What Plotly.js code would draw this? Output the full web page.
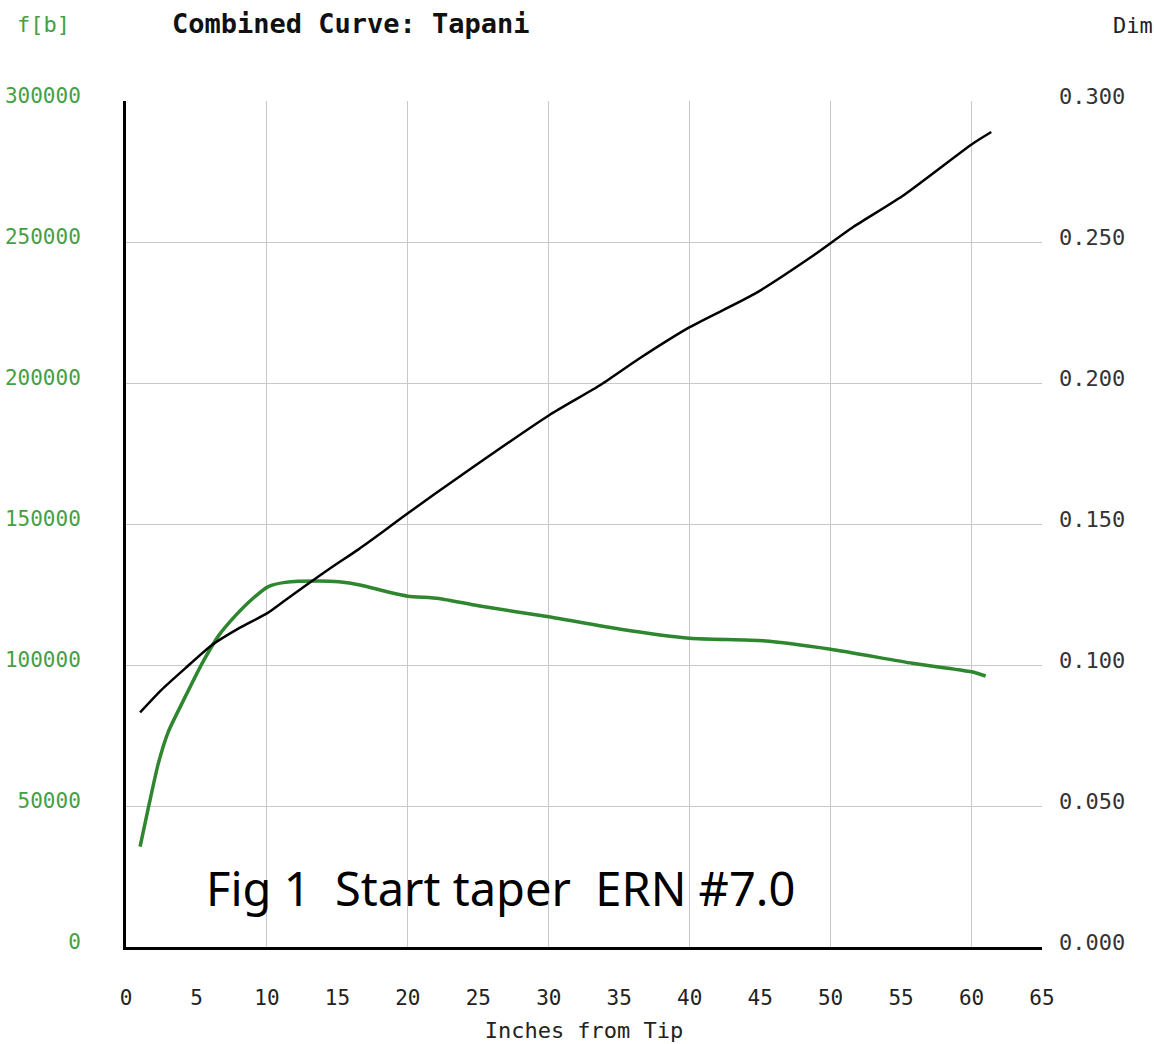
<!DOCTYPE html>
<html>
<head>
<meta charset="utf-8">
<script src="https://cdn.plot.ly/plotly-3.0.1.min.js"></script>
<style>
  html, body { margin: 0; padding: 0; background: #ffffff; }
  #chart { width: 1154px; height: 1044px; }
</style>
</head>
<body>
<div id="chart"></div>
<script>
// Force curve f[b] (left axis)
const forceX = [1.0, 1.6, 2.3, 3.0, 4.2, 5.4, 6.6, 7.8, 9.0, 10.1, 11.3, 13.7, 15.1, 16.6, 18.5, 20.0, 22.2, 25.0, 30.0, 35.1, 40.0, 45.2, 50.0, 55.8, 60.0, 61.0];
const forceY = [35600, 49700, 65200, 76300, 88700, 100600, 110600, 117700, 123600, 127800, 129300, 129800, 129500, 128400, 126000, 124400, 123600, 121000, 117100, 112700, 109500, 108600, 105600, 100600, 97600, 96100];

// Dimension curve Dim (right axis)
const dimX = [1.0, 2.5, 4.2, 6.1, 8.0, 10.0, 11.3, 12.8, 14.7, 16.5, 18.3, 20.0, 23.6, 30.0, 33.6, 36.4, 40.0, 44.6, 48.8, 51.6, 55.1, 60.0, 61.4];
const dimY = [0.0832, 0.0911, 0.0988, 0.1071, 0.1130, 0.1183, 0.1230, 0.1284, 0.1350, 0.1410, 0.1475, 0.1538, 0.1666, 0.1885, 0.1991, 0.2086, 0.2198, 0.2316, 0.2453, 0.2553, 0.2663, 0.2846, 0.2890];

const chartTitle = "Combined Curve: Tapani";
const leftLabel = "f[b]";
const rightLabel = "Dim";
const xTitle = "Inches from Tip";
const noteText = "Fig 1  Start taper  ERN #7.0";

const mono = "DejaVu Sans Mono, Liberation Mono, monospace";

const traces = [
  {
    x: forceX, y: forceY, xaxis: 'x', yaxis: 'y',
    type: 'scatter', mode: 'lines',
    line: { color: '#2e862e', width: 3.5, shape: 'spline', smoothing: 0.6 },
    hoverinfo: 'skip', showlegend: false
  },
  {
    x: dimX, y: dimY, xaxis: 'x2', yaxis: 'y2',
    type: 'scatter', mode: 'lines',
    line: { color: '#000000', width: 2.5, shape: 'spline', smoothing: 0.6 },
    hoverinfo: 'skip', showlegend: false
  }
];

const layout = {
  width: 1154, height: 1044,
  margin: { l: 126, r: 112, t: 101, b: 97 },
  paper_bgcolor: '#ffffff', plot_bgcolor: '#ffffff',
  showlegend: false,
  title: {
    text: '<b>' + chartTitle + '</b>',
    font: { family: mono, size: 27, color: '#111111' },
    xref: 'container', yref: 'container',
    x: 172 / 1154, xanchor: 'left',
    y: 1 - 24 / 1044, yanchor: 'middle'
  },
  xaxis: {
    range: [0, 65], dtick: 5, tick0: 0,
    showgrid: false, zeroline: false,
    showline: true, linecolor: '#000000', linewidth: 3,
    ticks: '', ticklabelstandoff: 30,
    tickfont: { family: mono, size: 21, color: '#222222' },
    title: { text: xTitle, font: { family: mono, size: 22, color: '#222222' }, standoff: 14 }
  },
  xaxis2: {
    range: [0, 65], dtick: 10, tick0: 0, overlaying: 'x', anchor: 'y2',
    showgrid: true, gridcolor: '#c8c8c8', gridwidth: 1,
    showticklabels: false, zeroline: false, showline: false, ticks: ''
  },
  yaxis: {
    range: [0, 300000], dtick: 50000, tick0: 0,
    tickformat: 'd',
    showgrid: true, gridcolor: '#c8c8c8', gridwidth: 1,
    zeroline: false,
    showline: true, linecolor: '#000000', linewidth: 3,
    ticks: '', ticklabelstandoff: 38, ticklabelshift: -5,
    tickfont: { family: mono, size: 21, color: '#45a045' }
  },
  yaxis2: {
    range: [0, 0.3], dtick: 0.05, tick0: 0,
    tickformat: '.3f',
    overlaying: 'y', side: 'right', anchor: 'x2',
    showgrid: false, zeroline: false, showline: false,
    ticks: '', ticklabelstandoff: 16, ticklabelshift: -5,
    tickfont: { family: mono, size: 22, color: '#333333' }
  },
  annotations: [
    {
      text: leftLabel, xref: 'paper', yref: 'paper',
      x: (15 - 126) / 916, xanchor: 'left',
      y: (947 - 24) / 846, yanchor: 'middle',
      showarrow: false,
      font: { family: mono, size: 22, color: '#45a045' }
    },
    {
      text: rightLabel, xref: 'paper', yref: 'paper',
      x: (1111 - 126) / 916, xanchor: 'left',
      y: (947 - 25) / 846, yanchor: 'middle',
      showarrow: false,
      font: { family: mono, size: 22, color: '#222222' }
    },
    {
      text: noteText, xref: 'x', yref: 'y',
      x: 26.6, y: 21000, xanchor: 'center', yanchor: 'middle',
      showarrow: false,
      font: { family: 'Noto Sans, DejaVu Sans, sans-serif', size: 47, color: '#000000' }
    }
  ]
};

Plotly.newPlot('chart', traces, layout, { staticPlot: true, displayModeBar: false });
</script>
</body>
</html>
